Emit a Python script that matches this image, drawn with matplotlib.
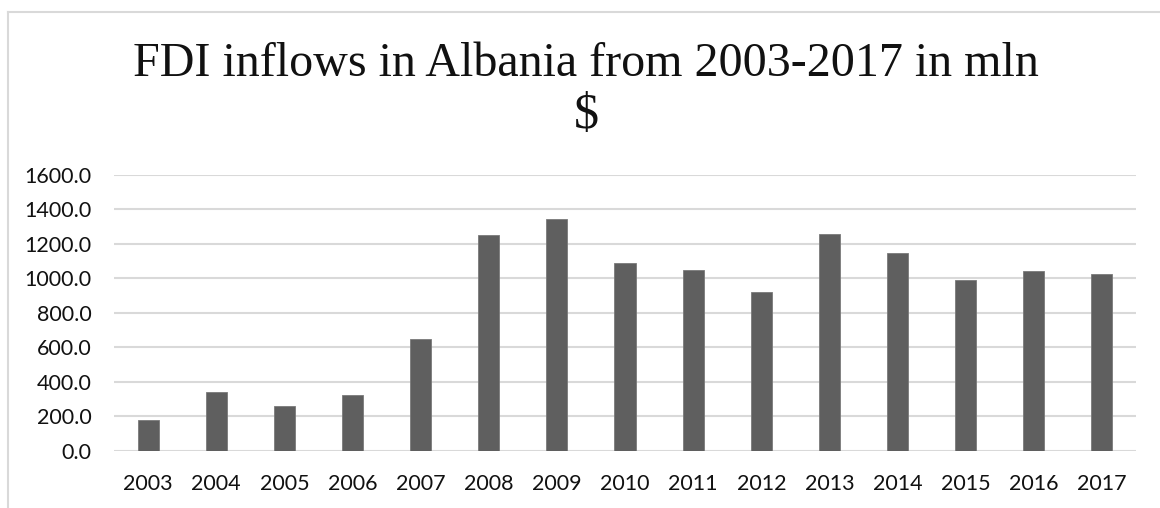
import matplotlib.pyplot as plt
from matplotlib.lines import Line2D

years = ["2003", "2004", "2005", "2006", "2007", "2008", "2009", "2010",
         "2011", "2012", "2013", "2014", "2015", "2016", "2017"]
fdi_mln = [178, 342, 259, 323, 649, 1250, 1343, 1086,
           1047, 918, 1254, 1146, 987, 1043, 1022]
y_ticks = [0, 200, 400, 600, 800, 1000, 1200, 1400, 1600]

W, H = 1160, 508
fig = plt.figure(figsize=(W / 100, H / 100), dpi=100)
fig.patch.set_facecolor("white")

# chart frame (left and top edges only)
fx0, fy0 = 7.5 / W, 1 - 11.5 / H
fig.add_artist(Line2D([fx0, fx0], [0, fy0], transform=fig.transFigure,
                      color="#d9d9d9", lw=1.5))
fig.add_artist(Line2D([fx0, 1], [fy0, fy0], transform=fig.transFigure,
                      color="#d9d9d9", lw=1.5))

ax = fig.add_axes([114 / W, 1 - 450.7 / H, (1136 - 114) / W, (450.7 - 174.7) / H])
x = list(range(len(years)))
ax.bar(x, fdi_mln, width=0.31, color="#5f5f5f", edgecolor="#7a7a7a",
       linewidth=0.6, zorder=3)

ax.set_xlim(-0.5, len(years) - 0.5)
ax.set_ylim(0, 1600)
ax.set_yticks(y_ticks)
ax.set_yticklabels([f"{v:.1f}" for v in y_ticks])
ax.set_xticks(x)
ax.set_xticklabels(years)
ax.grid(axis="y", color="#d9d9d9", linewidth=1.5, zorder=0)
for s in ax.spines.values():
    s.set_visible(False)
ax.tick_params(length=0, labelsize=15.5, labelcolor="#111111")
ax.tick_params(axis="y", pad=16)
ax.tick_params(axis="x", pad=17)
for lab in ax.get_xticklabels() + ax.get_yticklabels():
    lab.set_family("Lato")

fig.text(586 / W, 1 - 76 / H, "FDI inflows in Albania from 2003-2017 in mln",
         ha="center", va="baseline", family="Liberation Serif", fontsize=34.6,
         color="#111111")
fig.text(586 / W, 1 - 128 / H, "$", ha="center", va="baseline",
         family="Liberation Serif", fontsize=36, color="#111111")

fig.savefig("out.png", dpi=100)
